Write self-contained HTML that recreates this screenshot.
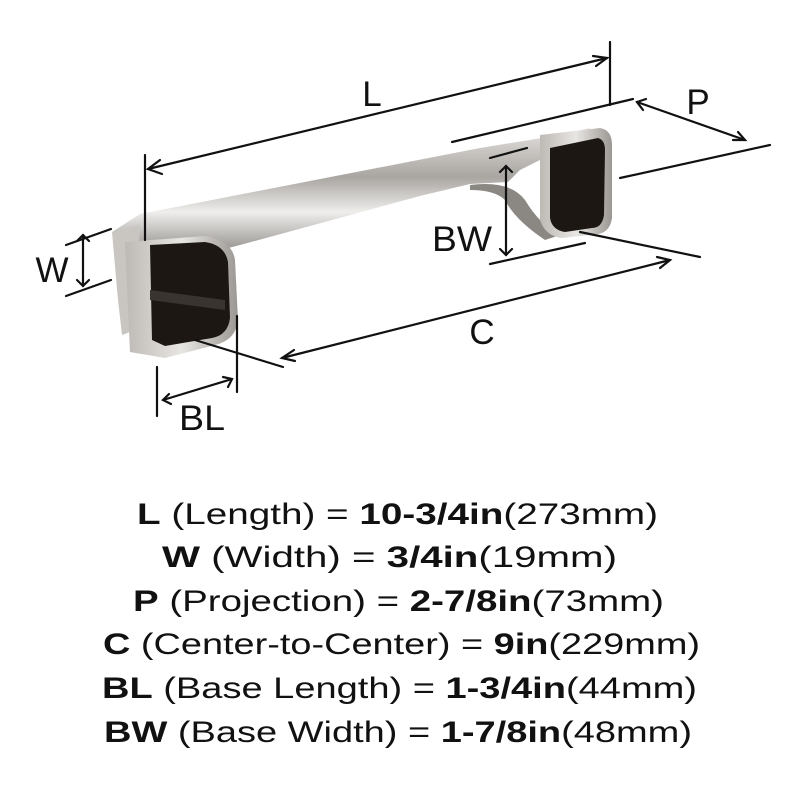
<!DOCTYPE html>
<html><head><meta charset="utf-8"><style>
html,body{margin:0;padding:0;background:#fff;width:800px;height:800px;overflow:hidden}
svg{display:block}
text{font-family:"Liberation Sans",sans-serif;fill:#111}
</style></head><body>
<svg width="800" height="800" viewBox="0 0 800 800">
<defs>
<linearGradient id="bar" x1="0" y1="0" x2="0" y2="1">
<stop offset="0" stop-color="#e4e2df"/><stop offset="0.35" stop-color="#a9a5a1"/><stop offset="0.6" stop-color="#efeeec"/><stop offset="1" stop-color="#6e6a66"/>
</linearGradient>
<linearGradient id="foot" x1="0" y1="0" x2="1" y2="0">
<stop offset="0" stop-color="#bdb9b4"/><stop offset="0.5" stop-color="#e8e6e3"/><stop offset="1" stop-color="#9b9792"/>
</linearGradient>
</defs>
<!-- bar -->
<path d="M112,232 L140,214 L480,148 L560,135 L590,128 L585,150 L540,160 L520,170 L508,182 L470,184 L420,196 L240,245 L150,268 Z" fill="url(#bar)"/>
<path d="M470,185 Q510,180 525,200 Q540,225 560,235 L545,240 Q515,220 505,200 Q495,190 470,190 Z" fill="#8b8782"/>
<!-- left foot -->
<path d="M112,232 L140,225 L135,330 L122,335 L118,300 Z" fill="#c9c6c2"/>
<path d="M125,242 L205,236 Q232,240 235,260 L238,320 Q236,340 215,345 L165,358 L130,352 Z" fill="url(#foot)"/>
<path d="M150,245 L205,242 Q225,245 228,262 L230,318 Q228,335 212,338 L165,346 L152,340 Z" fill="#1d1714"/>
<path d="M150,290 L225,300 L225,310 L150,300 Z" fill="#3a3430"/>
<!-- right foot -->
<path d="M540,135 L600,128 Q612,130 612,145 L612,218 Q610,232 598,234 L562,238 Q545,236 540,220 Z" fill="url(#foot)"/>
<path d="M550,148 L598,138 Q605,140 605,150 L604,215 Q602,228 592,228 L565,232 Q552,230 550,218 Z" fill="#1d1714"/>
<g stroke="#111" stroke-width="2.2" fill="none" stroke-linecap="round">
<line x1="145" y1="155" x2="145" y2="240"/><line x1="610" y1="42" x2="610" y2="105"/>
<line x1="148" y1="169" x2="607" y2="58"/>
<polyline points="160,160 148,169 162,174"/><polyline points="593,56 607,58 596,66"/>
<line x1="452" y1="142" x2="633" y2="99"/><line x1="620" y1="178" x2="770" y2="145"/>
<line x1="637" y1="102" x2="745" y2="140"/>
<polyline points="646,99 637,102 643,110"/><polyline points="733,140 745,140 738,132"/>
<line x1="66" y1="245" x2="111" y2="229"/><line x1="66" y1="296" x2="111" y2="280"/>
<line x1="83" y1="235" x2="83" y2="286"/>
<polyline points="77,241 83,235 89,241"/><polyline points="77,280 83,286 89,280"/>
<line x1="490" y1="158" x2="527" y2="148"/><line x1="490" y1="264" x2="585" y2="243"/>
<line x1="506" y1="166" x2="506" y2="255"/>
<polyline points="500,172 506,166 512,172"/><polyline points="500,249 506,255 512,249"/>
<line x1="195" y1="340" x2="283" y2="367"/><line x1="580" y1="232" x2="700" y2="257"/>
<line x1="282" y1="358" x2="670" y2="260"/>
<polyline points="294,350 282,358 295,361"/><polyline points="657,257 670,260 660,268"/>
<line x1="157" y1="367" x2="157" y2="416"/><line x1="237" y1="316" x2="237" y2="392"/>
<line x1="163" y1="400" x2="232" y2="379"/>
<polyline points="169,394 163,400 171,404"/><polyline points="223,377 232,379 228,387"/>
</g>
<g font-size="35" text-anchor="middle">
<text x="372" y="106">L</text>
<text x="698" y="114">P</text>
<text x="52" y="282">W</text>
<text x="462" y="251" textLength="60" lengthAdjust="spacingAndGlyphs">BW</text>
<text x="482" y="344">C</text>
<text x="202" y="430" textLength="46" lengthAdjust="spacingAndGlyphs">BL</text>
</g>
<g font-size="30">
<text x="137" y="524" textLength="521" lengthAdjust="spacingAndGlyphs"><tspan font-weight="bold">L</tspan> (Length) = <tspan font-weight="bold">10-3/4in</tspan>(273mm)</text>
<text x="162" y="567" textLength="455" lengthAdjust="spacingAndGlyphs"><tspan font-weight="bold">W</tspan> (Width) = <tspan font-weight="bold">3/4in</tspan>(19mm)</text>
<text x="133" y="611" textLength="531" lengthAdjust="spacingAndGlyphs"><tspan font-weight="bold">P</tspan> (Projection) = <tspan font-weight="bold">2-7/8in</tspan>(73mm)</text>
<text x="103" y="654" textLength="597" lengthAdjust="spacingAndGlyphs"><tspan font-weight="bold">C</tspan> (Center-to-Center) = <tspan font-weight="bold">9in</tspan>(229mm)</text>
<text x="102" y="698" textLength="595" lengthAdjust="spacingAndGlyphs"><tspan font-weight="bold">BL</tspan> (Base Length) = <tspan font-weight="bold">1-3/4in</tspan>(44mm)</text>
<text x="104" y="742" textLength="588" lengthAdjust="spacingAndGlyphs"><tspan font-weight="bold">BW</tspan> (Base Width) = <tspan font-weight="bold">1-7/8in</tspan>(48mm)</text>
</g>
</svg>
</body></html>
